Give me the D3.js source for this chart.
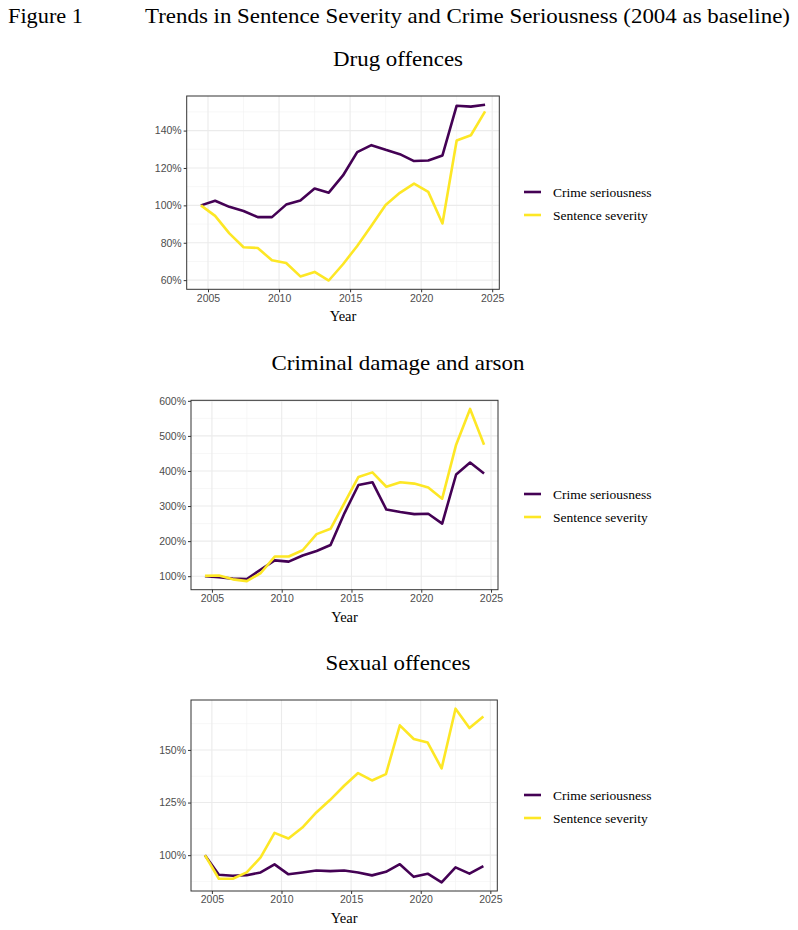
<!DOCTYPE html>
<html>
<head>
<meta charset="utf-8">
<script src="https://cdn.jsdelivr.net/npm/d3@7"></script>
<style>
  body { margin: 0; background: #fff; }
  svg { display: block; }
</style>
</head>
<body>
<svg id="chart" width="798" height="930"></svg>
<script>
// x positions: financial years plotted at mid-year
const years = d3.range(21).map(i => 2004.5 + i);

const drugCrime    = [100, 102.5, 99.2, 97, 93.7, 93.7, 100.4, 102.6, 109, 106.8, 116, 128.5, 132.2, 129.7, 127.4, 123.7, 124, 126.7, 153.3, 152.8, 153.8];
const drugSentence = [100, 94.4, 85, 77.6, 77.2, 70.6, 69.2, 62, 64.4, 59.8, 68.5, 78.3, 89.1, 100.2, 106.7, 111.6, 107.2, 90.3, 134.7, 137.5, 150.3];

const damageCrime    = [100, 97, 93, 92, 119, 145, 141.5, 159, 172, 189, 280, 360, 368, 290, 283, 277, 278, 250, 390, 424, 393];
const damageSentence = [101, 102, 91, 86, 109, 156, 156, 174, 220, 235, 309, 383, 396, 355, 368, 364, 353, 321, 475, 577, 475];

const sexualCrime    = [100, 90.7, 90.2, 90.5, 91.8, 95.6, 90.9, 91.8, 92.7, 92.4, 92.7, 91.8, 90.4, 92.1, 95.7, 89.7, 91.2, 87.1, 94.2, 91.2, 94.8];
const sexualSentence = [100, 88.8, 88.8, 91.8, 98.9, 110.6, 107.9, 113.1, 120.3, 126.3, 133, 139, 135.5, 138.5, 161.7, 155.2, 153.5, 141.2, 169.6, 160.4, 165.9];

const xTicks = [2005, 2010, 2015, 2020, 2025];
const drugTicks = [60, 80, 100, 120, 140];
const damageTicks = [100, 200, 300, 400, 500, 600];
const sexualTicks = [100, 125, 150];

const seriesNames = ["Crime seriousness", "Sentence severity"];
const seriesColors = ["#440154", "#FDE725"];

const svg = d3.select("#chart");
const serif = "'Liberation Serif', 'Times New Roman', serif";
const sans = "'Liberation Sans', Arial, sans-serif";

// header (the original text is slightly stretched horizontally)
svg.append("text").attr("x", 8).attr("y", 23)
  .attr("font-family", serif).attr("font-size", 21.5)
  .attr("textLength", 75).attr("lengthAdjust", "spacingAndGlyphs")
  .text("Figure 1");
svg.append("text").attr("x", 145).attr("y", 23)
  .attr("font-family", serif).attr("font-size", 21.5)
  .attr("textLength", 645).attr("lengthAdjust", "spacingAndGlyphs")
  .text("Trends in Sentence Severity and Crime Seriousness (2004 as baseline)");

function expand(vals) {
  const lo = d3.min(vals), hi = d3.max(vals);
  const pad = (hi - lo) * 0.05;
  return [lo - pad, hi + pad];
}

function panel(opt) {
  const g = svg.append("g");
  const x = d3.scaleLinear().domain([2003.5, 2025.5]).range([opt.left, opt.right]);
  const y = d3.scaleLinear().domain(expand(opt.crime.concat(opt.sentence))).range([opt.bottom, opt.top]);

  // title
  g.append("text").attr("x", 398).attr("y", opt.top - 30)
    .attr("text-anchor", "middle").attr("font-family", serif).attr("font-size", 21)
    .attr("textLength", opt.titleW).attr("lengthAdjust", "spacingAndGlyphs")
    .text(opt.title);

  // minor grid
  const xMinor = xTicks.slice(0, -1).map(v => v + 2.5).filter(v => v > x.domain()[0] && v < x.domain()[1]);
  const step = opt.ticks[1] - opt.ticks[0];
  const yMinor = d3.range(opt.ticks[0] - step / 2, opt.ticks[opt.ticks.length - 1] + step, step)
    .filter(v => v > y.domain()[0] && v < y.domain()[1]);
  g.selectAll(".xmin").data(xMinor).enter().append("line")
    .attr("x1", d => x(d)).attr("x2", d => x(d)).attr("y1", opt.top).attr("y2", opt.bottom)
    .attr("stroke", "#F2F2F2").attr("stroke-width", 0.6);
  g.selectAll(".ymin").data(yMinor).enter().append("line")
    .attr("x1", opt.left).attr("x2", opt.right).attr("y1", d => y(d)).attr("y2", d => y(d))
    .attr("stroke", "#F2F2F2").attr("stroke-width", 0.6);
  // major grid
  const xMajor = xTicks.filter(v => v > x.domain()[0] && v < x.domain()[1]);
  const yMajor = opt.ticks.filter(v => v >= y.domain()[0] && v <= y.domain()[1] + 1);
  g.selectAll(".xmaj").data(xMajor).enter().append("line")
    .attr("x1", d => x(d)).attr("x2", d => x(d)).attr("y1", opt.top).attr("y2", opt.bottom)
    .attr("stroke", "#EBEBEB").attr("stroke-width", 1.1);
  g.selectAll(".ymaj").data(yMajor).enter().append("line")
    .attr("x1", opt.left).attr("x2", opt.right).attr("y1", d => y(d)).attr("y2", d => y(d))
    .attr("stroke", "#EBEBEB").attr("stroke-width", 1.1);

  // lines
  const line = d3.line().x((d, i) => x(years[i])).y(d => y(d));
  [opt.crime, opt.sentence].forEach((s, k) => {
    g.append("path").datum(s).attr("d", line)
      .attr("fill", "none").attr("stroke", seriesColors[k]).attr("stroke-width", 2.6)
      .attr("stroke-linejoin", "round");
  });

  // border
  g.append("rect").attr("x", opt.left).attr("y", opt.top)
    .attr("width", opt.right - opt.left).attr("height", opt.bottom - opt.top)
    .attr("fill", "none").attr("stroke", "#333333").attr("stroke-width", 1);

  // axes
  const xa = g.append("g").attr("transform", `translate(0,${opt.bottom})`)
    .call(d3.axisBottom(x).tickValues(xMajor).tickFormat(d3.format("d")).tickSize(3).tickPadding(2));
  const ya = g.append("g").attr("transform", `translate(${opt.left},0)`)
    .call(d3.axisLeft(y).tickValues(yMajor).tickFormat(d => d + "%").tickSize(3).tickPadding(2));
  [xa, ya].forEach(a => {
    a.select(".domain").remove();
    a.selectAll(".tick line").attr("stroke", "#333333");
    a.selectAll(".tick text").attr("fill", "#4D4D4D").attr("font-family", sans).attr("font-size", 10.5);
  });

  g.append("text").attr("x", (opt.left + opt.right) / 2).attr("y", opt.bottom + 32)
    .attr("text-anchor", "middle").attr("font-family", serif).attr("font-size", 14.5)
    .text("Year");

  // legend
  const lg = g.append("g").attr("transform", `translate(524,${opt.legendY})`);
  seriesNames.forEach((n, k) => {
    lg.append("line").attr("x1", 0).attr("x2", 17).attr("y1", k * 23).attr("y2", k * 23)
      .attr("stroke", seriesColors[k]).attr("stroke-width", 2.6);
    lg.append("text").attr("x", 29).attr("y", k * 23 + 4.5)
      .attr("font-family", serif).attr("font-size", 13.5).text(n);
  });
}

panel({ title: "Drug offences", titleW: 130, crime: drugCrime, sentence: drugSentence, ticks: drugTicks,
        left: 186.7, right: 499.3, top: 96, bottom: 289.3, legendY: 192 });
panel({ title: "Criminal damage and arson", titleW: 253, crime: damageCrime, sentence: damageSentence, ticks: damageTicks,
        left: 191, right: 498, top: 400.3, bottom: 589.7, legendY: 494 });
panel({ title: "Sexual offences", titleW: 145, crime: sexualCrime, sentence: sexualSentence, ticks: sexualTicks,
        left: 191, right: 497.3, top: 700, bottom: 891, legendY: 795 });
</script>
</body>
</html>
